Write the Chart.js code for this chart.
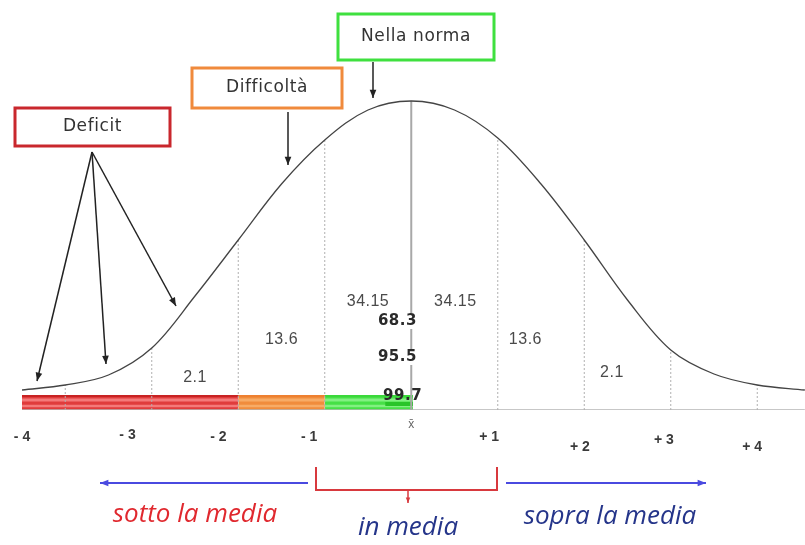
<!DOCTYPE html>
<html><head><meta charset="utf-8">
<script src="https://cdn.jsdelivr.net/npm/chart.js@4"></script>
<style>html,body{margin:0;padding:0;background:#fff}canvas{display:block}</style>
</head><body>
<canvas id="c" width="805" height="545"></canvas>
<script>
// ---- data ----
const sigmaX = [-4.5,-4,-3.5,-3,-2.5,-2,-1.5,-1,-0.5,0,0.5,1,1.5,2,2.5,3,3.5,4,4.55];
const curveY = [20,25,35,62,114,170,226,270,300,309,300,272,226,170,110,60,36,25,20];
const tickSigma = [-4,-3,-2,-1,1,2,3,4];
const tickLabels = ['- 4','- 3','- 2','- 1','+ 1','+ 2','+ 3','+ 4'];
const areaLabels = ['2.1','13.6','34.15','34.15','13.6','2.1'];
const cumulativeLabels = ['68.3','95.5','99.7'];
const bandStart = [-4.5,-2,-1];
const bandEnd = [-2,-1,0.02];
const bandNames = ['Deficit','Difficoltà','Nella norma'];
const groupNames = ['sotto la media','in media','sopra la media'];

// ---- datasets ----
const ds = [];
ds.push({data: sigmaX.map((x,i)=>({x, y: curveY[i]})), showLine:true, borderColor:'#444', borderWidth:1.3,
  pointRadius:0, tension:0.35, fill:false, order:1});
tickSigma.forEach(s=>{
  const h = curveY[sigmaX.indexOf(s)];
  ds.push({data:[{x:s,y:0},{x:s,y:h}], showLine:true, borderColor:'#b0b0b0', borderWidth:1, borderDash:[2,2], pointRadius:0, order:5});
});
ds.push({data:[{x:0,y:0},{x:0,y:curveY[sigmaX.indexOf(0)]}], showLine:true, borderColor:'#a8a8a8', borderWidth:2, pointRadius:0, order:4});
ds.push({data:[{x:sigmaX[0],y:0},{x:sigmaX[sigmaX.length-1],y:0}], showLine:true, borderColor:'#b5b5b5', borderWidth:1.5, pointRadius:0, order:6});
const bandBase = ['#e03c3c','#f08c3c','#46e046'];
const bandStripe = ['#f47a7a','#f7ab66','#82f082'];
const bandTop = ['#c82222','#ee8030','#3ad83a'];
bandStart.forEach((s,i)=>{
  const e = bandEnd[i];
  ds.push({data:[{x:s,y:15},{x:e,y:15}], showLine:true, borderWidth:0, borderColor:bandBase[i], backgroundColor:bandBase[i], fill:'origin', pointRadius:0, order:10});
  ds.push({data:[{x:s,y:10},{x:e,y:10}], showLine:true, borderWidth:3, borderColor:bandStripe[i], pointRadius:0, order:9});
  ds.push({data:[{x:s,y:4},{x:e,y:4}], showLine:true, borderWidth:2.5, borderColor:bandStripe[i], pointRadius:0, order:9});
  ds.push({data:[{x:s,y:14},{x:e,y:14}], showLine:true, borderWidth:2, borderColor:bandTop[i], pointRadius:0, order:9});
});
ds.push({data:[{x:-0.3,y:6},{x:0.02,y:6}], showLine:true, borderWidth:4, borderColor:'#28c428', pointRadius:0, order:8});

function arrow(ctx,x1,y1,x2,y2,col,w,head){
  ctx.save();ctx.strokeStyle=col;ctx.fillStyle=col;ctx.lineWidth=w;
  ctx.beginPath();ctx.moveTo(x1,y1);ctx.lineTo(x2,y2);ctx.stroke();
  const a=Math.atan2(y2-y1,x2-x1);const h=head||8;
  ctx.beginPath();ctx.moveTo(x2,y2);
  ctx.lineTo(x2-h*Math.cos(a-0.38),y2-h*Math.sin(a-0.38));
  ctx.lineTo(x2-h*Math.cos(a+0.38),y2-h*Math.sin(a+0.38));
  ctx.closePath();ctx.fill();ctx.restore();
}

const annot = {
  id:'annot',
  afterDatasetsDraw(chart){
    const ctx=chart.ctx, X=v=>chart.scales.x.getPixelForValue(v), Y=v=>chart.scales.y.getPixelForValue(v);
    ctx.save();
    ctx.textAlign='center';ctx.textBaseline='middle';
    // area labels
    ctx.font='16px "Liberation Sans", Arial, sans-serif';ctx.fillStyle='#4a4a4a';
    ctx.letterSpacing='0.5px';
    const aPos=[[-2.5,32],[-1.5,70],[-0.5,108],[0.51,108],[1.32,70],[2.32,37]];
    areaLabels.forEach((t,i)=>ctx.fillText(t,X(aPos[i][0]),Y(aPos[i][1])));
    // cumulative labels
    ctx.font='bold 15px "DejaVu Sans", Verdana, sans-serif';ctx.letterSpacing='0.5px';
    const cPos=[[-0.16,89],[-0.16,53],[-0.1,14]];
    cumulativeLabels.forEach((t,i)=>{
      const x=X(cPos[i][0]),y=Y(cPos[i][1]);
      if(i<2){const w=ctx.measureText(t).width;ctx.fillStyle='#fff';ctx.fillRect(x-w/2-1,y-8,w+2,16);}
      ctx.fillStyle='#2a2a2a';ctx.fillText(t,x,y);
    });
    // tick labels (staggered)
    ctx.letterSpacing='0px';
    ctx.font='bold 14px "Liberation Sans", Arial, sans-serif';ctx.fillStyle='#3a3a3a';
    const tOff=[[-0.5,-27],[-0.28,-25],[-0.23,-27],[-0.18,-27],[-0.1,-27],[-0.05,-37],[-0.08,-30],[-0.06,-37]];
    tickSigma.forEach((s,i)=>ctx.fillText(tickLabels[i],X(s+tOff[i][0]),Y(tOff[i][1])));
    ctx.font='12px "Liberation Sans", Arial, sans-serif';ctx.fillStyle='#666';
    ctx.fillText('x̄',X(0),Y(-15));
    // boxes
    const boxes=[[15,108,155,38,'#c9272d'],[192,68,150,40,'#f08a3c'],[338,14,156,46,'#3fe03f']];
    ctx.font='17px "DejaVu Sans", Verdana, sans-serif';ctx.letterSpacing='0.6px';
    boxes.forEach((b,i)=>{
      ctx.fillStyle='#fff';ctx.fillRect(b[0],b[1],b[2],b[3]);
      ctx.strokeStyle=b[4];ctx.lineWidth=3;ctx.strokeRect(b[0],b[1],b[2],b[3]);
      ctx.fillStyle='#333';ctx.fillText(bandNames[i],b[0]+b[2]/2,b[1]+b[3]/2);
    });
    ctx.letterSpacing='0px';
    // arrows to curve
    arrow(ctx,92,152,37,381,'#222',1.5,9);
    arrow(ctx,92,152,106,364,'#222',1.5,9);
    arrow(ctx,92,152,176,306,'#222',1.5,9);
    arrow(ctx,288,112,288,165,'#222',1.5,9);
    arrow(ctx,373,62,373,98,'#222',1.5,9);
    // bottom arrows
    arrow(ctx,308,483,100,483,'#4a4ae0',2,9);
    arrow(ctx,506,483,706,483,'#4a4ae0',2,9);
    ctx.strokeStyle='#d8393e';ctx.lineWidth=2;
    ctx.beginPath();ctx.moveTo(316,467);ctx.lineTo(316,490);ctx.lineTo(497,490);ctx.lineTo(497,467);ctx.stroke();
    arrow(ctx,408,490,408,503,'#d8393e',1.5,6);
    // group texts
    ctx.font='italic 26px "Open Sans", Lato, sans-serif';
    ctx.fillStyle='#e0282e';ctx.fillText(groupNames[0],195,515);
    ctx.fillStyle='#25358a';ctx.fillText(groupNames[1],408,528);
    ctx.fillText(groupNames[2],610,517);
    ctx.restore();
  }
};

new Chart(document.getElementById('c'),{
  type:'scatter',
  data:{datasets:ds},
  options:{responsive:false,animation:false,events:[],
    layout:{padding:{left:22,right:0,top:0,bottom:135}},
    scales:{x:{type:'linear',min:-4.5,max:4.552,display:false},y:{min:0,max:410,display:false}},
    plugins:{legend:{display:false},tooltip:{enabled:false}}},
  plugins:[annot]
});
</script>
</body></html>
